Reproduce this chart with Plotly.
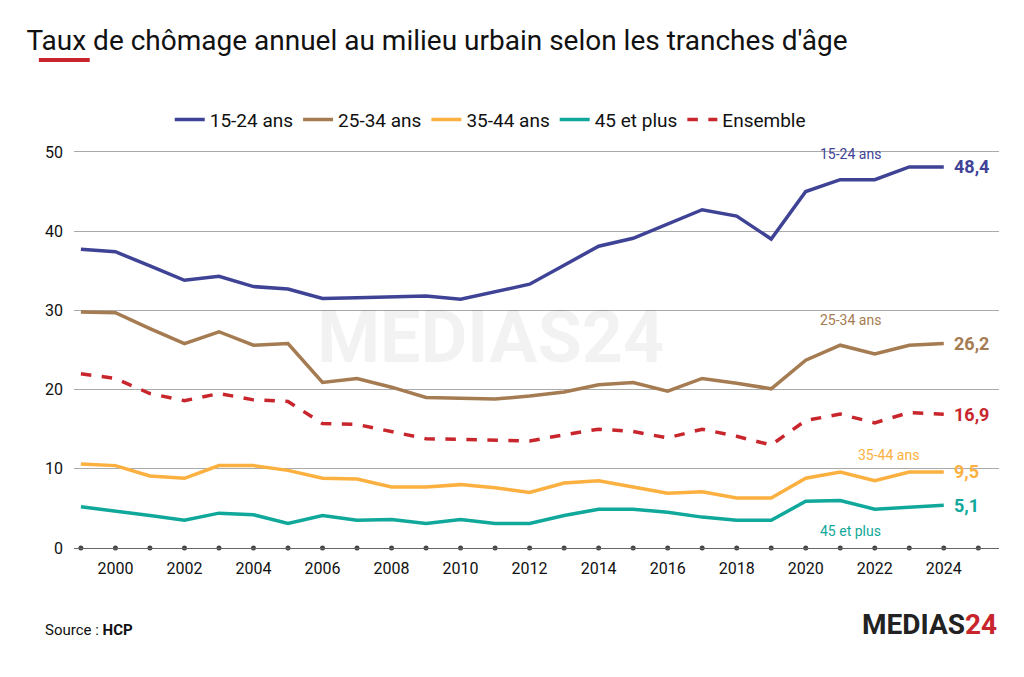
import plotly.graph_objects as go

years = list(range(1999, 2025))
tick_years = list(range(2000, 2025, 2))

s_15_24 = [37.7, 37.4, 35.6, 33.8, 34.3, 33.0, 32.7, 31.5, 31.6, 31.7, 31.8, 31.4, 32.3,
           33.3, 35.7, 38.1, 39.1, 40.9, 42.7, 41.9, 39.0, 45.0, 46.5, 46.5, 48.1, 48.1]
s_25_34 = [29.8, 29.7, 27.7, 25.8, 27.3, 25.6, 25.8, 20.9, 21.4, 20.3, 19.0, 18.9, 18.8,
           19.2, 19.7, 20.6, 20.9, 19.8, 21.4, 20.8, 20.1, 23.7, 25.6, 24.5, 25.6, 25.8]
s_35_44 = [10.6, 10.4, 9.1, 8.8, 10.4, 10.4, 9.8, 8.8, 8.7, 7.7, 7.7, 8.0, 7.6,
           7.0, 8.2, 8.5, 7.7, 6.9, 7.1, 6.3, 6.3, 8.8, 9.6, 8.5, 9.6, 9.6]
s_45 = [5.2, 4.7, 4.1, 3.5, 4.4, 4.2, 3.1, 4.1, 3.5, 3.6, 3.1, 3.6, 3.1,
        3.1, 4.1, 4.9, 4.9, 4.5, 3.9, 3.5, 3.5, 5.9, 6.0, 4.9, 5.2, 5.4]
s_ens = [22.0, 21.4, 19.5, 18.6, 19.5, 18.7, 18.5, 15.7, 15.6, 14.7, 13.8, 13.7, 13.6,
         13.5, 14.3, 15.0, 14.7, 13.9, 15.0, 14.1, 13.0, 16.1, 16.9, 15.8, 17.1, 16.9]
end_labels = ["48,4", "26,2", "9,5", "5,1", "16,9"]

series = [
    ("15-24 ans", s_15_24, "#3f4396", "solid"),
    ("25-34 ans", s_25_34, "#a57c52", "solid"),
    ("35-44 ans", s_35_44, "#fbb040", "solid"),
    ("45 et plus", s_45, "#10a89a", "solid"),
    ("Ensemble", s_ens, "#c8262c", "dash"),
]

fig = go.Figure()
for (name, vals, col, dash), lab in zip(series, end_labels):
    fig.add_trace(go.Scatter(x=years, y=vals, mode="lines", name=name,
                             line=dict(color=col, width=3.5, dash=dash)))
    fig.add_annotation(x=years[-1], y=vals[-1], text="<b>" + lab + "</b>", showarrow=False,
                       xanchor="left", xshift=8, font=dict(size=18, color=col))

# inline series names
inline = [("15-24 ans", 2021.3, s_15_24[22] + 3.2, "#3f4396"),
          ("25-34 ans", 2021.3, s_25_34[22] + 3.2, "#a57c52"),
          ("35-44 ans", 2022.4, s_35_44[23] + 3.3, "#fbb040"),
          ("45 et plus", 2021.3, s_45[22] - 3.8, "#10a89a")]
for t, x, y, c in inline:
    fig.add_annotation(x=x, y=y, text=t, showarrow=False, font=dict(size=14, color=c))

# dots on x axis
fig.add_trace(go.Scatter(x=list(range(1999, 2026)), y=[0] * 27, mode="markers",
                         marker=dict(color="#444", size=5), showlegend=False,
                         hoverinfo="skip", cliponaxis=False))

fig.add_annotation(xref="paper", yref="paper", x=0.45, y=0.52, text="<b>MEDIAS24</b>",
                   showarrow=False, font=dict(size=72, color="rgba(0,0,0,0.05)"))

fig.update_layout(
    width=1024, height=677, plot_bgcolor="white", paper_bgcolor="white",
    font=dict(family="Roboto", color="#111"),
    title=dict(text="Taux de chômage annuel au milieu urbain selon les tranches d'âge",
               x=0.018, y=0.952, yanchor="middle", font=dict(size=28, color="#111")),
    margin=dict(l=66, r=33, t=136, b=137),
    legend=dict(orientation="h", x=0.45, xanchor="center", y=1.06, yanchor="middle",
                font=dict(size=19), traceorder="normal"),
    xaxis=dict(range=[1998.8, 2025.6], tickvals=tick_years, showgrid=False,
               showline=True, linecolor="#666", linewidth=1,
               tickfont=dict(size=16, color="#111"), ticklabelstandoff=6),
    yaxis=dict(range=[0, 51], tickvals=[0, 10, 20, 30, 40, 50], gridcolor="#aaa",
               zeroline=False, tickfont=dict(size=16, color="#111"), ticklabelstandoff=10),
)
fig.add_shape(type="line", xref="paper", yref="paper", x0=-0.038, x1=0.017, y0=1.208, y1=1.208,
              line=dict(color="#c8262c", width=4))
fig.add_annotation(xref="paper", yref="paper", x=-0.033, y=-0.23, xanchor="left",
                   text="Source : <b>HCP</b>", showarrow=False, font=dict(size=15))
fig.add_annotation(xref="paper", yref="paper", x=1.0, y=-0.235, xanchor="right",
                   text="<b>MEDIAS<span style='color:#c8262c'>24</span></b>", showarrow=False,
                   font=dict(size=28, color="#222"))
fig.write_html("out.html")
